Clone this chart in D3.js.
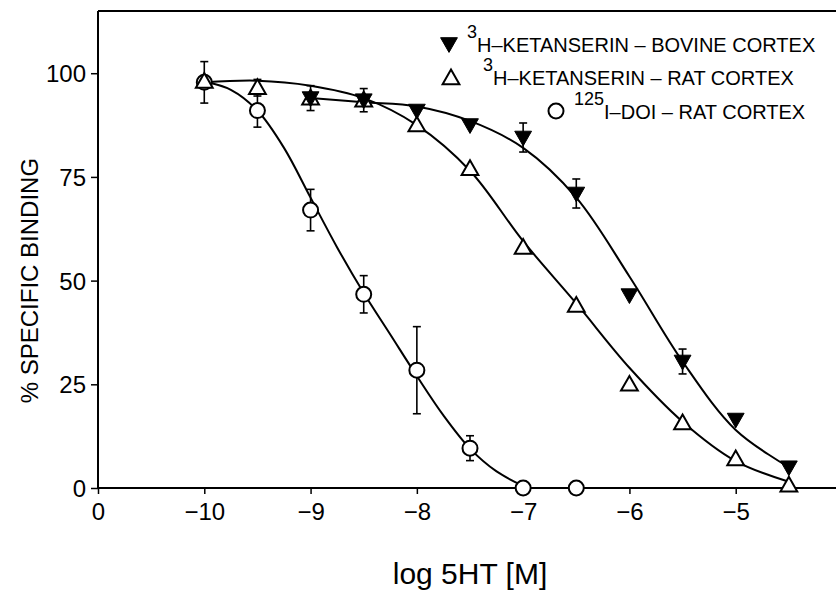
<!DOCTYPE html>
<html><head><meta charset="utf-8">
<script src="https://cdn.jsdelivr.net/npm/d3@7"></script>
<style>body{margin:0;background:#fff}svg{display:block}text{font-family:"Liberation Sans",Arial,sans-serif;fill:#000}</style>
</head><body><svg id="c" width="836" height="596"></svg>
<script>
// ---- data ----
const xTickValues = [-11, -10, -9, -8, -7, -6, -5];
const xTickLabels = ["0", "\u221210", "\u22129", "\u22128", "\u22127", "\u22126", "\u22125"];
const yTickValues = [0, 25, 50, 75, 100];

const doiX   = [-10, -9.5, -9, -8.5, -8, -7.5, -7, -6.5];
const doiY   = [97.8, 91, 67, 46.7, 28.4, 9.6, 0, 0];
const doiErr = [5, 4, 5, 4.5, 10.5, 3, 0, 0];

const ratX   = [-10, -9.5, -9, -8.5, -8, -7.5, -7, -6.5, -6, -5.5, -5, -4.5];
const ratY   = [98, 96.5, 94, 93.5, 87.5, 77, 58, 44, 25, 15.7, 7, 0.7];
const ratErr = [0, 2, 0, 0, 0, 0, 0, 0, 0, 0, 0, 0];

const bovX   = [-9, -8.5, -8, -7.5, -7, -6.5, -6, -5.5, -5, -4.5];
const bovY   = [94, 93.5, 91, 87.5, 84.5, 71, 46.5, 30.5, 16.5, 5];
const bovErr = [3, 2.8, 0, 0, 3.5, 3.5, 0, 3, 0, 0];

// fitted curves
const doiCurveX = [-10, -9.75, -9.5, -9.25, -9, -8.75, -8.5, -8.25, -8, -7.75, -7.5, -7.25, -7];
const doiCurveY = [98, 96, 91, 82, 70, 58, 47, 37, 27, 17.5, 9.5, 4, 0.5];
const ratCurveX = [-10, -9.5, -9, -8.5, -8, -7.5, -7, -6.5, -6, -5.5, -5, -4.5];
const ratCurveY = [97.8, 98.2, 97, 94, 87.5, 76.5, 59.5, 44.5, 29, 16, 6.5, 1.5];
const bovCurveX = [-9, -8.5, -8, -7.5, -7, -6.5, -6, -5.5, -5, -4.5];
const bovCurveY = [94, 93, 92, 88.5, 82, 70, 51, 30.5, 14, 5];

// ---- chart ----
const svg = d3.select("#c");
const x = d3.scaleLinear().domain([-11, -4]).range([98, 842]);
const y = d3.scaleLinear().domain([0, 115]).range([488, 11]);

// frame (top line)
svg.append("line").attr("x1", x(-11)).attr("x2", 836).attr("y1", y(115)).attr("y2", y(115))
  .attr("stroke", "#000").attr("stroke-width", 2);

const xAxis = svg.append("g").attr("transform", `translate(0,${y(0)})`)
  .call(d3.axisBottom(x).tickValues(xTickValues).tickFormat((d, i) => xTickLabels[i]).tickSize(6).tickSizeOuter(0));
const yAxis = svg.append("g").attr("transform", `translate(${x(-11)},0)`)
  .call(d3.axisLeft(y).tickValues(yTickValues).tickSize(7).tickSizeOuter(0));
[xAxis, yAxis].forEach(g => {
  g.select(".domain").attr("stroke-width", 2);
  g.selectAll(".tick line").attr("stroke-width", 1.5);
  g.selectAll("text").attr("font-size", 24).style("font-family", "Liberation Sans, Arial, sans-serif");
});
xAxis.select(".domain").attr("d", `M${x(-11)},0H836`);
xAxis.selectAll("text").attr("dy", "0.95em");
yAxis.select(".domain").attr("d", `M0,${y(0)}V${y(115)}`);
yAxis.selectAll("text").attr("x", -12).attr("dy", "0.36em");

// axis titles
svg.append("text").attr("x", 470).attr("y", 584).attr("text-anchor", "middle")
  .attr("font-size", 30).style("font-family", "Liberation Sans Narrow, Liberation Sans, sans-serif").text("log 5HT [M]");
svg.append("text").attr("transform", `translate(38,${y(50)}) rotate(-90)`).attr("text-anchor", "middle")
  .attr("font-size", 24).text("% SPECIFIC BINDING");

// curves
const line = d3.line().x(d => x(d[0])).y(d => y(d[1])).curve(d3.curveCatmullRom.alpha(0.5));
[[doiCurveX, doiCurveY], [ratCurveX, ratCurveY], [bovCurveX, bovCurveY]].forEach(([cx, cy]) => {
  svg.append("path").attr("d", line(cx.map((v, i) => [v, cy[i]])))
    .attr("fill", "none").attr("stroke", "#000").attr("stroke-width", 2);
});

// error bars
function errBars(xs, ys, es) {
  xs.forEach((v, i) => {
    if (!es[i]) return;
    const g = svg.append("g").attr("stroke", "#000").attr("stroke-width", 1.6);
    const cx = x(v), t = y(ys[i] + es[i]), b = y(ys[i] - es[i]);
    g.append("line").attr("x1", cx).attr("x2", cx).attr("y1", t).attr("y2", b);
    g.append("line").attr("x1", cx - 4).attr("x2", cx + 4).attr("y1", t).attr("y2", t);
    g.append("line").attr("x1", cx - 4).attr("x2", cx + 4).attr("y1", b).attr("y2", b);
  });
}
errBars(doiX, doiY, doiErr);
errBars(ratX, ratY, ratErr);
errBars(bovX, bovY, bovErr);

// markers
const triUp = (cx, cy, s) => `M${cx},${cy - s * 0.6}L${cx + s * 0.6},${cy + s * 0.45}L${cx - s * 0.6},${cy + s * 0.45}Z`;
const triDown = (cx, cy, s) => `M${cx},${cy + s * 0.6}L${cx + s * 0.6},${cy - s * 0.45}L${cx - s * 0.6},${cy - s * 0.45}Z`;

doiX.forEach((v, i) => svg.append("circle").attr("cx", x(v)).attr("cy", y(doiY[i])).attr("r", 7.5)
  .attr("fill", "#fff").attr("stroke", "#000").attr("stroke-width", 2));
ratX.forEach((v, i) => svg.append("path").attr("d", triUp(x(v), y(ratY[i]), 14))
  .attr("fill", "#fff").attr("stroke", "#000").attr("stroke-width", 2));
bovX.forEach((v, i) => svg.append("path").attr("d", triDown(x(v), y(bovY[i]), 14))
  .attr("fill", "#000").attr("stroke", "#000").attr("stroke-width", 1));

// legend
const leg = svg.append("g");
leg.append("path").attr("d", triDown(449, 44, 14)).attr("fill", "#000").attr("stroke", "#000");
let t1 = leg.append("text").attr("x", 467).attr("y", 52).attr("font-size", 20);
t1.append("tspan").attr("dy", -14).attr("font-size", 18).text("3");
t1.append("tspan").attr("dy", 14).text("H\u2013KETANSERIN \u2013 BOVINE CORTEX");

leg.append("path").attr("d", triUp(451, 78, 14)).attr("fill", "#fff").attr("stroke", "#000").attr("stroke-width", 2);
let t2 = leg.append("text").attr("x", 483).attr("y", 85).attr("font-size", 20);
t2.append("tspan").attr("dy", -14).attr("font-size", 18).text("3");
t2.append("tspan").attr("dy", 14).text("H\u2013KETANSERIN \u2013 RAT CORTEX");

leg.append("circle").attr("cx", 556).attr("cy", 111).attr("r", 7.5).attr("fill", "#fff").attr("stroke", "#000").attr("stroke-width", 2);
let t3 = leg.append("text").attr("x", 574).attr("y", 119).attr("font-size", 20);
t3.append("tspan").attr("dy", -14).attr("font-size", 18).text("125");
t3.append("tspan").attr("dy", 14).text("I\u2013DOI \u2013 RAT CORTEX");
</script></body></html>
